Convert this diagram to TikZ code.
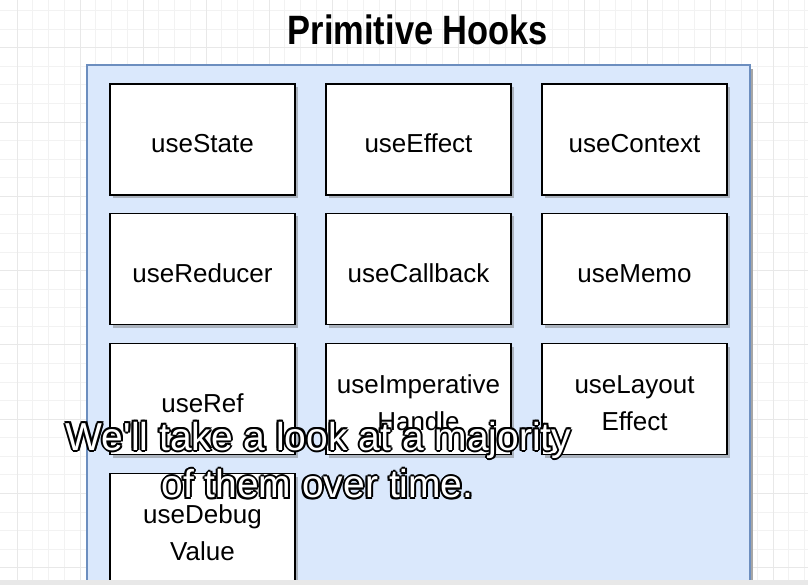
\documentclass[tikz,border=0pt]{standalone}
\usepackage{fontspec}
\usetikzlibrary{shadows}

\newfontfamily\hookfont{Liberation Sans}
\newfontfamily\titlefont[FakeStretch=0.84]{Liberation Sans}

\definecolor{panelfill}{HTML}{DAE8FC}
\definecolor{panelline}{HTML}{6C8EBF}
\definecolor{gridminor}{HTML}{F2F2F2}
\definecolor{gridmajor}{HTML}{E8E8E8}

% struts so that every label sits at the same height
\newcommand\hookup{\rule{0pt}{32.4pt}}
\newcommand\hookdown{\rule[-6pt]{0pt}{6pt}}

% one shifted copy of a caption line
\newcommand\ghost[3]{\rlap{\kern#1\raise#2\hbox{#3}}}
\newcommand\captext[1]{%
  {\color{black}%
   \ghost{-2pt}{0pt}{#1}\ghost{2pt}{0pt}{#1}\ghost{0pt}{2pt}{#1}\ghost{0pt}{-2pt}{#1}%
   \ghost{-1.4pt}{1.4pt}{#1}\ghost{1.4pt}{1.4pt}{#1}\ghost{-1.4pt}{-1.4pt}{#1}\ghost{1.4pt}{-1.4pt}{#1}}%
  \textcolor{white}{#1}}

\begin{document}
\begin{tikzpicture}[x=1pt,y=-1pt]
   \tikzstyle{every node}=[node distance=216pt]
   \tikzstyle{hook}=[draw,line width=1.3pt,fill=white,minimum width=185pt,minimum height=111pt,
      align=center,font=\hookfont\fontsize{26}{37}\selectfont,
      drop shadow={shadow xshift=3pt,shadow yshift=-3pt,opacity=0.45,fill=black!55}]

   \useasboundingbox (0,0) rectangle (808,585);
   \clip (0,0) rectangle (808,585);

   % background grid
   \fill[white] (0,0) rectangle (808,585);
   \foreach \k in {0,...,50}
      \draw[gridminor,line width=0.8pt] ({17+15.75*\k},0) -- ({17+15.75*\k},585);
   \foreach \k in {0,...,31}
      \draw[gridminor,line width=0.8pt] (0,{10.6+18.57*\k}) -- (808,{10.6+18.57*\k});
   \foreach \k in {0,4,...,48}
      \draw[gridmajor,line width=0.8pt] ({17+15.75*\k},0) -- ({17+15.75*\k},585);
   \foreach \k in {2,6,...,30}
      \draw[gridmajor,line width=0.8pt] (0,{10.6+18.57*\k}) -- (808,{10.6+18.57*\k});

   \node (title) at (418,30) {\titlefont\bfseries\fontsize{41}{41}\selectfont Primitive Hooks};

   % panel
   \fill[black!35] (750,69) rectangle (753,590);
   \draw[panelline,fill=panelfill,line width=1.5pt] (87,65) rectangle (750,595);

   \node (st) [hook] at (202.5,139.5) {\hookup useState\hookdown};
   \node (ef) [hook,right of=st] {\hookup useEffect\hookdown};
   \node (cx) [hook,right of=ef] {\hookup useContext\hookdown};

   \node (rd) [hook] at (202.5,269) {\hookup useReducer\hookdown};
   \node (cb) [hook,right of=rd] {\hookup useCallback\hookdown};
   \node (mm) [hook,right of=cb] {\hookup useMemo\hookdown};

   \node (rf) [hook] at (202.5,399) {\hookup useRef\hookdown};
   \node (ih) [hook,right of=rf] {\hookup useImperative\\Handle\hookdown};
   \node (le) [hook,right of=ih] {\hookup useLayout\\Effect\hookdown};

   \node (dv) [hook] at (202.5,529) {\hookup useDebug\\Value\hookdown};

   \fill[black!9] (0,580) rectangle (808,585);

   % caption
   \node (c1) at (318.5,440) {\hookfont\fontsize{39}{39}\selectfont\captext{We'll take a look at a majority}};
   \node (c2) at (317.5,484) {\hookfont\fontsize{39}{39}\selectfont\captext{of them over time.}};

\end{tikzpicture}
\end{document}
